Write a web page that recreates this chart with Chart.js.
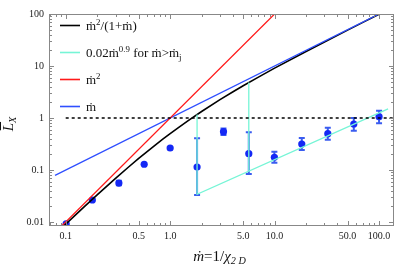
<!DOCTYPE html>
<html>
<head>
<meta charset="utf-8">
<script src="https://cdn.jsdelivr.net/npm/chart.js@4.4.1/dist/chart.umd.min.js"></script>
<style>
  html, body { margin:0; padding:0; background:#fff; }
  #wrap { width:399px; height:269px; }
</style>
</head>
<body>
<div id="wrap"><canvas id="c" width="399" height="269"></canvas></div>
<script>
// ---- data ----
const obsM  = [0.101, 0.18, 0.323, 0.564, 1.0, 1.81, 3.24, 5.66, 9.95, 18.2, 32.3, 57.3, 100];
const obsL  = [0.0092, 0.0265, 0.056, 0.129, 0.265, 0.114, 0.546, 0.206, 0.175, 0.316, 0.50, 0.767, 1.06];
const obsLo = [null, null, 0.051, null, null, 0.033, 0.47, 0.084, 0.138, 0.242, 0.38, 0.57, 0.79];
const obsHi = [null, null, 0.062, null, null, 0.407, 0.63, 0.53, 0.225, 0.413, 0.65, 1.0, 1.38];

// mdot^2/(1+mdot)
const blackM = [0.09, 0.12, 0.15, 0.2, 0.3, 0.4, 0.5, 0.7, 0.85, 1, 1.2, 1.5, 2, 3, 4, 5, 7, 10, 20, 30, 50, 70, 101];
const blackL = [0.00743, 0.01286, 0.01957, 0.0333, 0.0692, 0.1143, 0.1667, 0.2882, 0.3905, 0.5, 0.6545, 0.9, 1.333, 2.25, 3.2, 4.167, 6.125, 9.09, 19.05, 29.03, 49.02, 69.01, 100.01];
// mdot^2
const redM = [0.09, 10.5];
const redL = [0.0081, 110.25];
// mdot
const blueM = [0.079, 100];
const blueL = [0.079, 100];
// L = 1 reference
const dashM = [0.1, 140];
const dashL = [1, 1];
// 0.02 mdot^0.9 for mdot > mdot_j (+ drops at the two mdot_j)
const cyanM = [1.81, 1.81, 122, null, 5.66, 5.66];
const cyanL = [1.17, 0.034, 1.5, null, 4.8, 0.095];

const xTicks = [0.1, 0.5, 1, 5, 10, 50, 100];
const xTickLabels = ['0.1', '0.5', '1.0', '5.0', '10.0', '50.0', '100.0'];
const yTicks = [0.01, 0.1, 1, 10, 100];
const yTickLabels = ['0.01', '0.1', '1', '10', '100'];

const SERIF = '"Liberation Serif", "DejaVu Serif", serif';

function pts(xs, ys) {
    return xs.map(function(x, i) { return x == null ? { x: NaN, y: NaN } : { x: x, y: ys[i] }; });
}

function lineDs(label, xs, ys, color, width, dash) {
    return { label: label, data: pts(xs, ys), showLine: true, borderColor: color, backgroundColor: color,
             borderWidth: width, borderDash: dash || [], pointRadius: 0, tension: 0, spanGaps: false };
}

// draw a run of text pieces with sup/sub/italic
function runWidth(ctx, runs, size) {
    var w = 0;
    runs.forEach(function(r) {
        var s = r.sup || r.sub ? size * 0.68 : size;
        ctx.font = (r.it ? 'italic ' : '') + s + 'px ' + SERIF;
        w += ctx.measureText(r.t).width;
    });
    return w;
}
function drawRuns(ctx, x, y, runs, size) {
    ctx.textBaseline = 'alphabetic';
    ctx.textAlign = 'left';
    runs.forEach(function(r) {
        var s = r.sup || r.sub ? size * 0.68 : size;
        var dy = r.sup ? -size * 0.42 : (r.sub ? size * 0.22 : 0);
        ctx.font = (r.it ? 'italic ' : '') + s + 'px ' + SERIF;
        ctx.fillText(r.t, x, y + dy);
        x += ctx.measureText(r.t).width;
    });
}

const legendItems = [
    { color: '#000000', runs: [{ t: 'ṁ' }, { t: '2', sup: 1 }, { t: '/(1+ṁ)' }] },
    { color: '#76f5d6', runs: [{ t: '0.02ṁ' }, { t: '0.9', sup: 1 }, { t: ' for ṁ>ṁ' }, { t: 'j', sub: 1 }] },
    { color: '#ff1a1a', runs: [{ t: 'ṁ' }, { t: '2', sup: 1 }] },
    { color: '#2f4fff', runs: [{ t: 'ṁ' }] }
];

const decorPlugin = {
    id: 'decor',
    beforeDatasetDraw: function(chart, args) {
        if (args.index !== chart.data.datasets.length - 1) return;
        var ctx = chart.ctx, xs = chart.scales.x, ys = chart.scales.y;
        ctx.save();
        ctx.strokeStyle = '#3a5cf0';
        ctx.lineWidth = 2;
        obsM.forEach(function(m, i) {
            if (obsLo[i] == null) return;
            var px = xs.getPixelForValue(m);
            var y1 = ys.getPixelForValue(obsLo[i]), y2 = ys.getPixelForValue(obsHi[i]);
            ctx.beginPath();
            ctx.moveTo(px, y1); ctx.lineTo(px, y2);
            ctx.moveTo(px - 3, y1); ctx.lineTo(px + 3, y1);
            ctx.moveTo(px - 3, y2); ctx.lineTo(px + 3, y2);
            ctx.stroke();
        });
        ctx.restore();
    },
    afterDraw: function(chart) {
        var ctx = chart.ctx, a = chart.chartArea, xs = chart.scales.x, ys = chart.scales.y;
        ctx.save();
        // frame
        ctx.strokeStyle = '#888';
        ctx.lineWidth = 1;
        ctx.strokeRect(a.left + 0.5, a.top + 0.5, a.right - a.left - 1, a.bottom - a.top - 1);
        // inward ticks
        ctx.beginPath();
        [0.01, 0.1, 1, 10, 100].forEach(function(dec) {
            for (var k = 1; k <= 9; k++) {
                var v = dec * k;
                var major = (k === 1 || k === 5);
                var px = Math.round(xs.getPixelForValue(v)) + 0.5;
                if (px > a.left + 1 && px < a.right - 1) {
                    var L = major ? 5 : 3;
                    ctx.moveTo(px, a.bottom); ctx.lineTo(px, a.bottom - L);
                    ctx.moveTo(px, a.top); ctx.lineTo(px, a.top + L);
                }
                var py = Math.round(ys.getPixelForValue(v)) + 0.5;
                if (py > a.top + 1 && py < a.bottom - 1) {
                    var Ly = k === 1 ? 5 : 3;
                    ctx.moveTo(a.left, py); ctx.lineTo(a.left + Ly, py);
                    ctx.moveTo(a.right, py); ctx.lineTo(a.right - Ly, py);
                }
            }
        });
        ctx.stroke();

        // legend
        ctx.fillStyle = '#111';
        legendItems.forEach(function(it, i) {
            var y = 25.5 + i * 27;
            ctx.strokeStyle = it.color;
            ctx.lineWidth = 1.6;
            ctx.beginPath(); ctx.moveTo(60, y); ctx.lineTo(80, y); ctx.stroke();
            drawRuns(ctx, 86, y + 4.5, it.runs, 13);
        });

        // x title
        var xr = [{ t: 'ṁ', it: 1 }, { t: '=1/' }, { t: 'χ', it: 1 }, { t: '2 D', sub: 1, it: 1 }];
        var w = runWidth(ctx, xr, 15);
        drawRuns(ctx, (a.left + a.right) / 2 - w / 2 - 2, 261, xr, 15);

        // y title
        ctx.translate(13, 124);
        ctx.rotate(-Math.PI / 2);
        var yr = [{ t: 'L', it: 1 }, { t: 'X', sub: 1, it: 1 }];
        var wy = runWidth(ctx, yr, 15);
        drawRuns(ctx, -wy / 2, 0, yr, 15);
        ctx.font = 'italic 15px ' + SERIF;
        var lw = ctx.measureText('L').width;
        ctx.strokeStyle = '#111';
        ctx.lineWidth = 1;
        ctx.beginPath(); ctx.moveTo(-wy / 2 + 1, -12.5); ctx.lineTo(-wy / 2 + lw + 1, -12.5); ctx.stroke();
        ctx.restore();
    }
};

new Chart(document.getElementById('c'), {
    type: 'scatter',
    data: {
        datasets: [
            lineDs('dash', dashM, dashL, '#000000', 1.4, [3, 3]),
            lineDs('cyan', cyanM, cyanL, '#76f5d6', 1.3),
            lineDs('red', redM, redL, '#ff1a1a', 1.3),
            lineDs('blue', blueM, blueL, '#2f4fff', 1.3),
            lineDs('black', blackM, blackL, '#000000', 1.6),
            { label: 'obs', data: pts(obsM, obsL), showLine: false, pointRadius: 3.6,
              pointBackgroundColor: '#1428f5', pointBorderWidth: 0, borderColor: '#1428f5' }
        ]
    },
    options: {
        responsive: false,
        animation: false,
        devicePixelRatio: 1,
        layout: { padding: { top: 14, right: 5, left: 0, bottom: 0 } },
        plugins: { legend: { display: false }, tooltip: { enabled: false } },
        scales: {
            x: {
                type: 'logarithmic', min: 0.0692, max: 139,
                grid: { display: false, drawTicks: false }, border: { display: false },
                afterBuildTicks: function(s) { s.ticks = xTicks.map(function(v) { return { value: v }; }); },
                afterFit: function(s) { s.height = 43; },
                ticks: { autoSkip: false, maxRotation: 0, padding: 4, color: '#222',
                         font: { family: SERIF, size: 10 },
                         callback: function(v) { var i = xTicks.indexOf(v); return i >= 0 ? xTickLabels[i] : ''; } }
            },
            y: {
                type: 'logarithmic', min: 0.00838, max: 100,
                grid: { display: false, drawTicks: false }, border: { display: false },
                afterBuildTicks: function(s) { s.ticks = yTicks.map(function(v) { return { value: v }; }); },
                afterFit: function(s) { s.width = 49; },
                ticks: { autoSkip: false, padding: 5, color: '#222',
                         font: { family: SERIF, size: 10 },
                         callback: function(v) { var i = yTicks.indexOf(v); return i >= 0 ? yTickLabels[i] : ''; } }
            }
        }
    },
    plugins: [decorPlugin]
});
</script>
</body>
</html>
